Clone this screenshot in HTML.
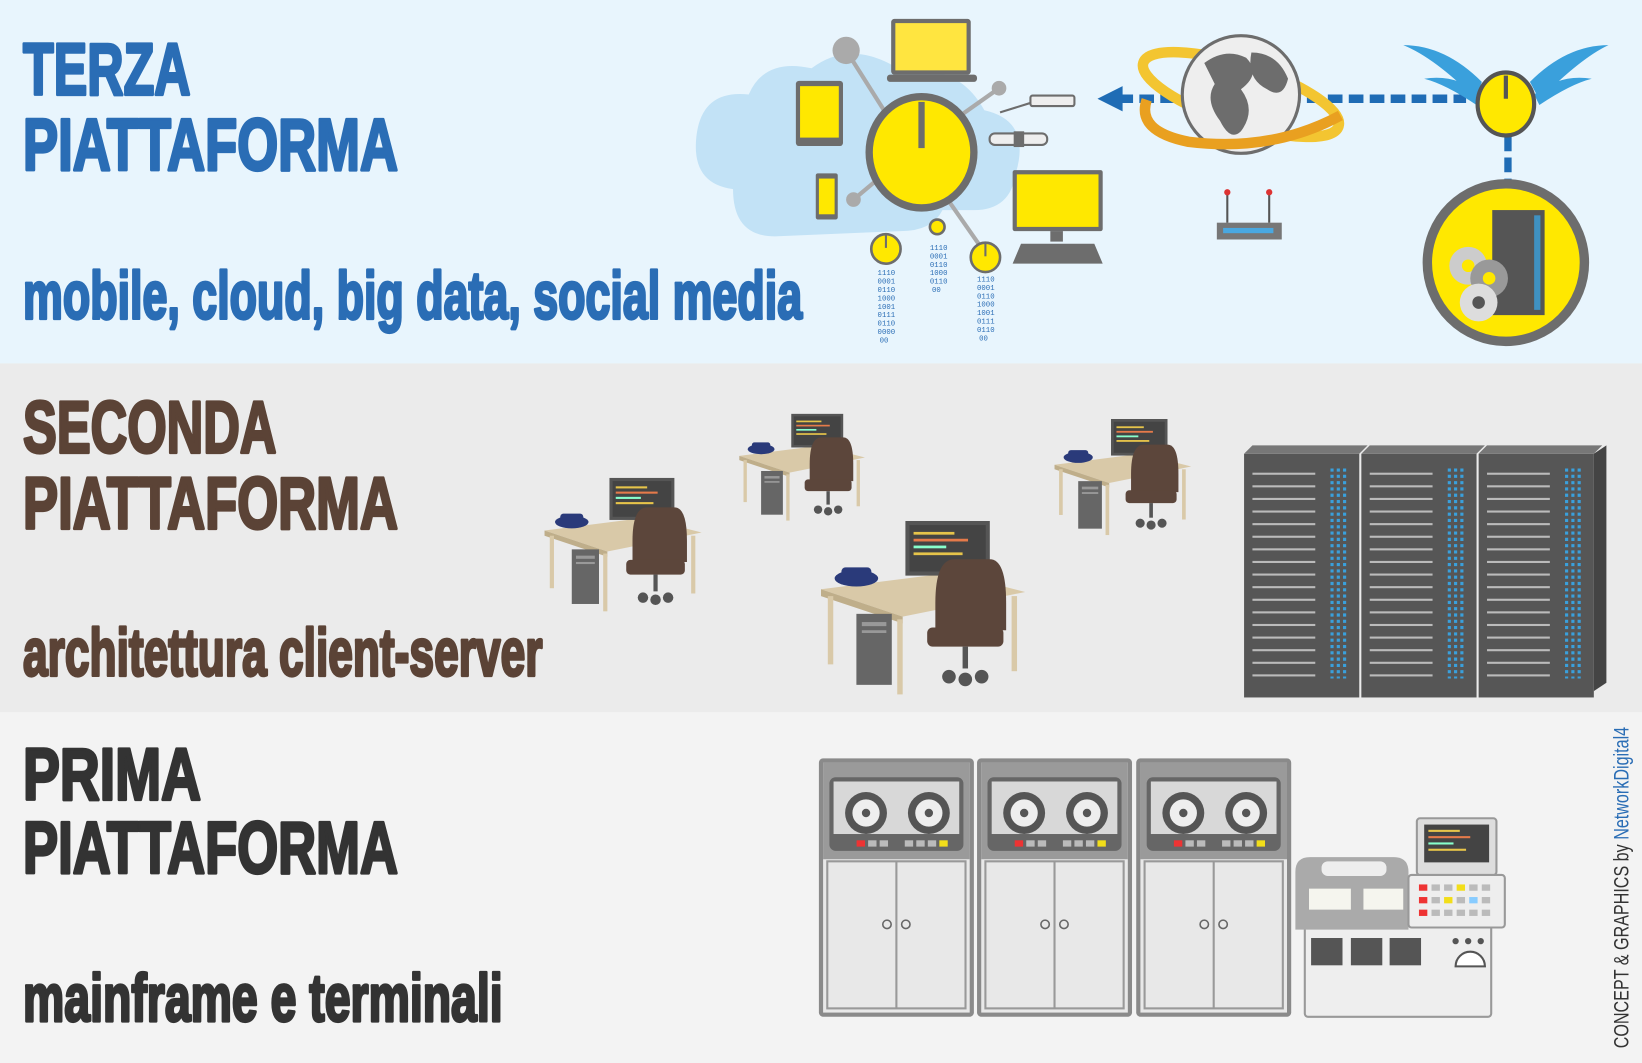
<!DOCTYPE html>
<html><head><meta charset="utf-8"><style>
html,body{margin:0;padding:0;background:#f3f3f3}
svg{display:block}
.t{font-family:"Liberation Sans",sans-serif;font-weight:bold;stroke-width:3;stroke-linejoin:round}
</style></head><body>
<svg width="1642" height="1063" viewBox="0 0 1568 1012" preserveAspectRatio="none" xmlns="http://www.w3.org/2000/svg">
<defs>
<g id="desk">
 <polygon points="0,20 95,8 150,22 60,40" fill="#d9c9a8"/>
 <polygon points="0,20 60,40 60,45 0,25" fill="#bfae8a"/>
 <rect x="5" y="25" width="4" height="50" fill="#d9c9a8"/>
 <rect x="56" y="42" width="4" height="55" fill="#d9c9a8"/>
 <rect x="140" y="25" width="4" height="55" fill="#d9c9a8"/>
 <rect x="26" y="38" width="26" height="52" fill="#666"/><rect x="30" y="44" width="18" height="3" fill="#999"/><rect x="30" y="50" width="18" height="2" fill="#999"/>
 <rect x="62" y="-30" width="62" height="40" fill="#555"/><rect x="65" y="-27" width="56" height="34" fill="#444"/>
 <rect x="68" y="-22" width="30" height="2" fill="#e6c44a"/><rect x="68" y="-17" width="40" height="2" fill="#e57a4a"/><rect x="68" y="-12" width="24" height="2" fill="#8fc"/><rect x="68" y="-7" width="36" height="2" fill="#e6c44a"/>
 <rect x="88" y="10" width="10" height="6" fill="#666"/>
 <ellipse cx="26" cy="12" rx="16" ry="6" fill="#2a3a7a"/><rect x="15" y="4" width="22" height="7" rx="3" fill="#2a3a7a"/>
 <path d="M84,30 q0,-32 14,-32 h26 q12,0 12,32 v20 h-52z" fill="#5c463b"/>
 <rect x="78" y="48" width="56" height="14" rx="4" fill="#5c463b"/>
 <rect x="104" y="62" width="4" height="16" fill="#555"/>
 <circle cx="94" cy="84" r="5" fill="#555"/><circle cx="106" cy="86" r="5" fill="#555"/><circle cx="118" cy="84" r="5" fill="#555"/>
</g>
<g id="rack">
 <rect x="0" y="0" width="110" height="232" fill="#565656"/>
 <polygon points="0,0 8,-8 118,-8 110,0" fill="#777"/>
 <g fill="#bbb">
 <rect x="8" y="18" width="60" height="2"/><rect x="8" y="30" width="60" height="2"/><rect x="8" y="42" width="60" height="2"/><rect x="8" y="54" width="60" height="2"/><rect x="8" y="66" width="60" height="2"/><rect x="8" y="78" width="60" height="2"/><rect x="8" y="90" width="60" height="2"/><rect x="8" y="102" width="60" height="2"/><rect x="8" y="114" width="60" height="2"/><rect x="8" y="126" width="60" height="2"/><rect x="8" y="138" width="60" height="2"/><rect x="8" y="150" width="60" height="2"/><rect x="8" y="162" width="60" height="2"/><rect x="8" y="174" width="60" height="2"/><rect x="8" y="186" width="60" height="2"/><rect x="8" y="198" width="60" height="2"/><rect x="8" y="210" width="60" height="2"/>
 </g>
 <line x1="84" y1="14" x2="84" y2="214" stroke="#3aa0dc" stroke-width="3" stroke-dasharray="3,3"/>
 <line x1="90" y1="14" x2="90" y2="214" stroke="#3aa0dc" stroke-width="3" stroke-dasharray="3,3"/>
 <line x1="96" y1="14" x2="96" y2="214" stroke="#3aa0dc" stroke-width="3" stroke-dasharray="3,3"/>
</g>
<g id="cab">
 <rect x="0" y="0" width="148" height="246" rx="4" fill="#8a8a8a"/>
 <rect x="4" y="4" width="140" height="238" fill="#e8e8e8"/>
 <rect x="4" y="4" width="140" height="92" fill="#9a9a9a"/>
 <rect x="10" y="18" width="128" height="70" rx="6" fill="#666"/>
 <rect x="14" y="22" width="120" height="50" fill="#d8d8d8"/>
 <circle cx="45" cy="52" r="20" fill="#555"/><circle cx="45" cy="52" r="13" fill="#eee"/><circle cx="45" cy="52" r="4" fill="#555"/>
 <circle cx="105" cy="52" r="20" fill="#555"/><circle cx="105" cy="52" r="13" fill="#eee"/><circle cx="105" cy="52" r="4" fill="#555"/>
 <rect x="36" y="78" width="8" height="6" fill="#e33"/><rect x="47" y="78" width="8" height="6" fill="#bbb"/><rect x="58" y="78" width="8" height="6" fill="#bbb"/><rect x="82" y="78" width="8" height="6" fill="#bbb"/><rect x="93" y="78" width="8" height="6" fill="#bbb"/><rect x="104" y="78" width="8" height="6" fill="#bbb"/><rect x="115" y="78" width="8" height="6" fill="#f2de1a"/>
 <rect x="8" y="98" width="132" height="140" fill="none" stroke="#999" stroke-width="2"/>
 <line x1="74" y1="98" x2="74" y2="238" stroke="#999" stroke-width="2"/>
 <circle cx="65" cy="158" r="4" fill="none" stroke="#666" stroke-width="1.5"/><circle cx="83" cy="158" r="4" fill="none" stroke="#666" stroke-width="1.5"/>
</g>
</defs>

<rect x="0" y="0" width="1568" height="346" fill="#e8f5fd"/>
<rect x="0" y="346" width="1568" height="332" fill="#ebebeb"/>
<rect x="0" y="678" width="1568" height="334" fill="#f3f3f3"/>

<!-- texts -->
<text class="t" x="22" y="90" font-size="70" fill="#2a6db5" stroke="#2a6db5" textLength="160" lengthAdjust="spacingAndGlyphs">TERZA</text>
<text class="t" x="22" y="162" font-size="70" fill="#2a6db5" stroke="#2a6db5" textLength="358" lengthAdjust="spacingAndGlyphs">PIATTAFORMA</text>
<text class="t" x="22" y="303" font-size="64" fill="#2a6db5" stroke="#2a6db5" textLength="744" lengthAdjust="spacingAndGlyphs">mobile, cloud, big data, social media</text>
<text class="t" x="22" y="431" font-size="70" fill="#5b4336" stroke="#5b4336" textLength="242" lengthAdjust="spacingAndGlyphs">SECONDA</text>
<text class="t" x="22" y="503" font-size="70" fill="#5b4336" stroke="#5b4336" textLength="358" lengthAdjust="spacingAndGlyphs">PIATTAFORMA</text>
<text class="t" x="22" y="643" font-size="64" fill="#5b4336" stroke="#5b4336" textLength="496" lengthAdjust="spacingAndGlyphs">architettura client-server</text>
<text class="t" x="22" y="761" font-size="70" fill="#333" stroke="#333" textLength="170" lengthAdjust="spacingAndGlyphs">PRIMA</text>
<text class="t" x="22" y="831" font-size="70" fill="#333" stroke="#333" textLength="358" lengthAdjust="spacingAndGlyphs">PIATTAFORMA</text>
<text class="t" x="22" y="972" font-size="64" fill="#333" stroke="#333" textLength="458" lengthAdjust="spacingAndGlyphs">mainframe e terminali</text>
<text transform="translate(1555,998) rotate(-90)" font-family="Liberation Sans,sans-serif" font-size="20" fill="#333" textLength="306" lengthAdjust="spacingAndGlyphs">CONCEPT &amp; GRAPHICS by <tspan fill="#2a6db5">NetworkDigital4</tspan></text>

<!-- top illustration -->
<path d="M700,180 q-40,-5 -35,-50 q5,-45 50,-40 q15,-35 60,-25 q40,-30 90,5 q50,-10 75,35 q45,10 30,60 q-5,35 -40,35 l-30,0 q-10,20 -40,20 l-120,5 q-40,0 -40,-45z" fill="#c2e2f6"/>
<g stroke="#aaa" stroke-width="4"><line x1="808" y1="48" x2="860" y2="130"/><line x1="954" y1="84" x2="910" y2="115"/><line x1="815" y1="190" x2="845" y2="165"/><line x1="905" y1="190" x2="940" y2="240"/></g>
<circle cx="808" cy="48" r="13" fill="#aaa"/><circle cx="954" cy="84" r="7" fill="#aaa"/><circle cx="815" cy="190" r="7" fill="#aaa"/>
<ellipse cx="880" cy="145" rx="50" ry="53" fill="#ffe800" stroke="#6d6d6d" stroke-width="7"/>
<rect x="877" y="97" width="6" height="44" fill="#6d6d6d"/>
<rect x="851" y="18" width="76" height="53" rx="3" fill="#6d6d6d"/><rect x="855" y="22" width="68" height="45" fill="#ffe540"/><rect x="847" y="71" width="86" height="7" rx="3" fill="#6d6d6d"/>
<rect x="760" y="77" width="45" height="62" rx="3" fill="#6d6d6d"/><rect x="764" y="82" width="37" height="49" fill="#ffe800"/>
<rect x="779" y="165" width="21" height="44" rx="2" fill="#6d6d6d"/><rect x="782" y="170" width="15" height="34" fill="#ffe800"/>
<rect x="967" y="162" width="86" height="58" rx="2" fill="#6d6d6d"/><rect x="971" y="166" width="78" height="50" fill="#ffe800"/><rect x="1003" y="220" width="12" height="10" fill="#6d6d6d"/><polygon points="975,232 1045,232 1053,251 967,251" fill="#6d6d6d"/>
<rect x="984" y="91" width="42" height="10" rx="2" fill="#eee" stroke="#6d6d6d" stroke-width="2"/><line x1="955" y1="107" x2="984" y2="98" stroke="#6d6d6d" stroke-width="2"/>
<rect x="945" y="127" width="55" height="11" rx="5" fill="#eee" stroke="#6d6d6d" stroke-width="2"/><rect x="968" y="125" width="10" height="15" fill="#6d6d6d"/>
<g fill="#ffe800" stroke="#6d6d6d" stroke-width="2.5"><circle cx="846" cy="237" r="14"/><circle cx="895" cy="216" r="7"/><circle cx="941" cy="245" r="14"/></g>
<g stroke="#6d6d6d" stroke-width="2"><line x1="846" y1="223" x2="846" y2="236"/><line x1="941" y1="231" x2="941" y2="244"/></g>
<g font-family="Liberation Mono,monospace" font-size="7" fill="#2a6db5">
<text x="838" y="262">1110</text><text x="838" y="270">0001</text><text x="838" y="278">0110</text><text x="838" y="286">1000</text><text x="838" y="294">1001</text><text x="838" y="302">0111</text><text x="838" y="310">0110</text><text x="838" y="318">0000</text><text x="840" y="326">00</text>
<text x="888" y="238">1110</text><text x="888" y="246">0001</text><text x="888" y="254">0110</text><text x="888" y="262">1000</text><text x="888" y="270">0110</text><text x="890" y="278">00</text>
<text x="933" y="268">1110</text><text x="933" y="276">0001</text><text x="933" y="284">0110</text><text x="933" y="292">1000</text><text x="933" y="300">1001</text><text x="933" y="308">0111</text><text x="933" y="316">0110</text><text x="935" y="324">00</text>
</g>
<!-- dashed arrow -->
<line x1="1068" y1="94" x2="1400" y2="94" stroke="#1f6cb5" stroke-width="8" stroke-dasharray="14,6"/>
<polygon points="1048,94 1072,82 1072,106" fill="#1f6cb5"/>
<line x1="1440" y1="130" x2="1440" y2="178" stroke="#1f6cb5" stroke-width="7" stroke-dasharray="14,6"/>
<ellipse cx="1185" cy="90" rx="98" ry="28" fill="none" stroke="#f3c531" stroke-width="10" transform="rotate(18 1185 90)"/>
<circle cx="1185" cy="90" r="56" fill="#eee" stroke="#6d6d6d" stroke-width="3"/>
<path d="M1150,60 q20,-15 40,-5 q15,15 -5,30 q15,20 0,40 q-10,10 -20,-10 q-15,-20 -5,-35z M1195,50 q25,0 35,25 q-5,20 -20,10 q-20,-10 -15,-35z" fill="#6d6d6d"/>
<path d="M1095,95 q-10,30 40,40 q80,10 145,-25" fill="none" stroke="#e9a020" stroke-width="10"/>
<!-- router -->
<rect x="1162" y="212" width="62" height="16" fill="#777"/><rect x="1168" y="217" width="48" height="5" fill="#4aa8e0"/>
<line x1="1172" y1="184" x2="1172" y2="212" stroke="#555" stroke-width="2"/><line x1="1212" y1="184" x2="1212" y2="212" stroke="#555" stroke-width="2"/>
<circle cx="1172" cy="183" r="3" fill="#d33"/><circle cx="1212" cy="183" r="3" fill="#d33"/>
<!-- wings -->
<path d="M1410,95 q-40,-40 -70,-52 q40,0 75,35z M1410,100 q-30,-20 -50,-25 q30,-5 55,15z" fill="#3aa0dc"/>
<path d="M1470,95 q40,-40 66,-52 q-40,0 -75,35z M1470,100 q30,-20 50,-25 q-30,-5 -55,15z" fill="#3aa0dc"/>
<ellipse cx="1438" cy="99" rx="27" ry="30" fill="#ffe800" stroke="#555" stroke-width="4"/><rect x="1436" y="72" width="4" height="22" fill="#555"/>
<ellipse cx="1438" cy="250" rx="75" ry="75" fill="#ffe800" stroke="#6d6d6d" stroke-width="9"/>
<rect x="1425" y="200" width="50" height="100" fill="#555"/><rect x="1465" y="205" width="6" height="90" fill="#3aa0dc" opacity=".8"/>
<circle cx="1402" cy="253" r="18" fill="#ccc"/><circle cx="1402" cy="253" r="6" fill="#ffe800"/><circle cx="1422" cy="265" r="18" fill="#999"/><circle cx="1422" cy="265" r="6" fill="#ffe800"/><circle cx="1412" cy="288" r="18" fill="#ddd"/><circle cx="1412" cy="288" r="6" fill="#555"/>

<!-- second: desks -->
<use href="#desk" x="520" y="485"/>
<use href="#desk" x="706" y="418" transform="translate(706 418) scale(.8) translate(-706 -418)"/>
<use href="#desk" x="1007" y="425" transform="translate(1007 425) scale(.87) translate(-1007 -425)"/>
<use href="#desk" x="784" y="535" transform="translate(784 535) scale(1.3) translate(-784 -535)"/>
<use href="#rack" x="1188" y="432"/>
<use href="#rack" x="1300" y="432"/>
<use href="#rack" x="1412" y="432"/>
<polygon points="1522,432 1534,424 1534,650 1522,658" fill="#444"/>

<!-- first: mainframe -->
<use href="#cab" x="782" y="722"/>
<use href="#cab" x="933" y="722"/>
<use href="#cab" x="1085" y="722"/>
<rect x="1246" y="860" width="178" height="108" rx="3" fill="#eee" stroke="#999" stroke-width="2"/>
<g fill="#555"><rect x="1252" y="893" width="30" height="26"/><rect x="1290" y="893" width="30" height="26"/><rect x="1327" y="893" width="30" height="26"/></g>
<path d="M1237,830 q0,-14 14,-14 h80 q14,0 14,14 v55 h-108z" fill="#aaa"/>
<rect x="1250" y="846" width="40" height="20" fill="#f5f5ee"/><rect x="1302" y="846" width="38" height="20" fill="#f5f5ee"/>
<rect x="1262" y="820" width="62" height="14" rx="6" fill="#eee"/>
<rect x="1345" y="833" width="92" height="50" rx="3" fill="#eee" stroke="#999" stroke-width="2"/>
<g fill="#bbb"><rect x="1355" y="842" width="8" height="6" fill="#e33"/><rect x="1367" y="842" width="8" height="6"/><rect x="1379" y="842" width="8" height="6"/><rect x="1391" y="842" width="8" height="6" fill="#f2de1a"/><rect x="1403" y="842" width="8" height="6"/><rect x="1415" y="842" width="8" height="6"/>
<rect x="1355" y="854" width="8" height="6" fill="#e33"/><rect x="1367" y="854" width="8" height="6"/><rect x="1379" y="854" width="8" height="6" fill="#f2de1a"/><rect x="1391" y="854" width="8" height="6"/><rect x="1403" y="854" width="8" height="6" fill="#8cf"/><rect x="1415" y="854" width="8" height="6"/>
<rect x="1355" y="866" width="8" height="6" fill="#e33"/><rect x="1367" y="866" width="8" height="6"/><rect x="1379" y="866" width="8" height="6"/><rect x="1391" y="866" width="8" height="6"/><rect x="1403" y="866" width="8" height="6"/><rect x="1415" y="866" width="8" height="6"/></g>
<rect x="1353" y="779" width="76" height="54" rx="3" fill="#ddd" stroke="#999" stroke-width="2"/><rect x="1360" y="785" width="62" height="36" fill="#444"/>
<rect x="1364" y="790" width="30" height="2" fill="#e6c44a"/><rect x="1364" y="796" width="40" height="2" fill="#e57a4a"/><rect x="1364" y="802" width="24" height="2" fill="#8fc"/><rect x="1364" y="808" width="36" height="2" fill="#e6c44a"/>
<g fill="#555"><circle cx="1390" cy="896" r="3"/><circle cx="1402" cy="896" r="3"/><circle cx="1414" cy="896" r="3"/></g>
<path d="M1390,920 a14,14 0 0 1 28,0z" fill="#fff" stroke="#555" stroke-width="2"/>
</svg>
</body></html>
